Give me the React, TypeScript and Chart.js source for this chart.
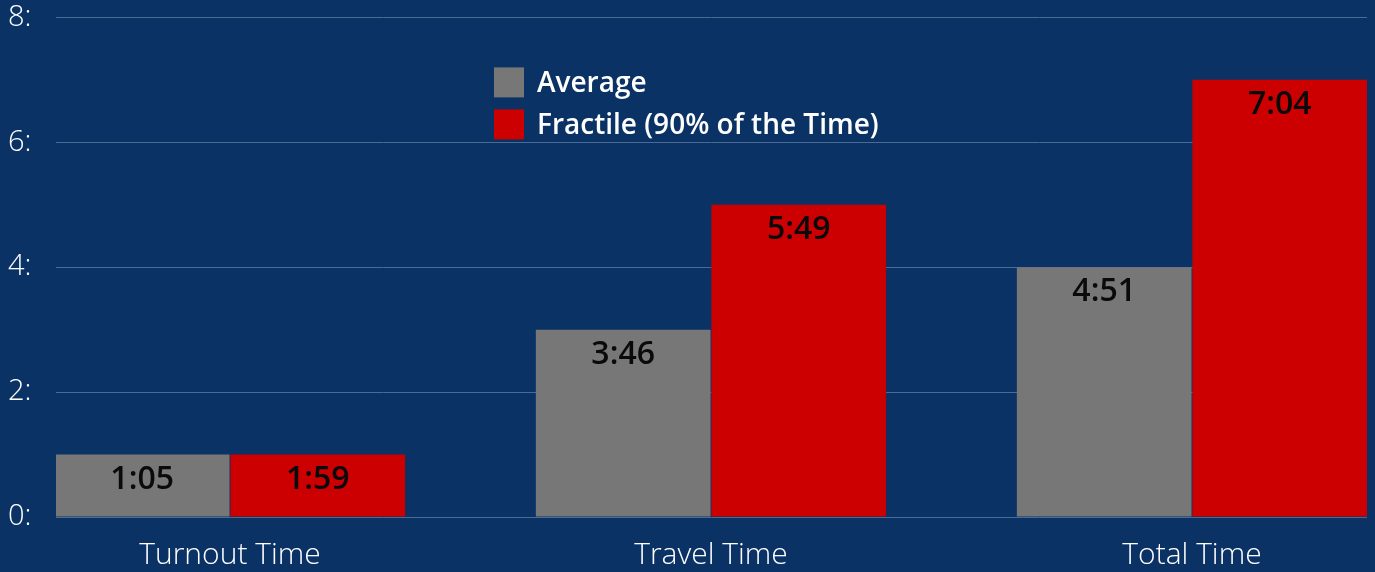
import React, { useEffect, useRef } from "react";
import { Chart, registerables } from "chart.js";

Chart.register(...registerables);

const categories = ["Turnout Time", "Travel Time", "Total Time"];
const averageValues = [1, 3, 4];
const fractileValues = [1, 5, 7];
const averageLabels = ["1:05", "3:46", "4:51"];
const fractileLabels = ["1:59", "5:49", "7:04"];
const seriesNames = ["Average", "Fractile (90% of the Time)"];
const yTicks = [0, 2, 4, 6, 8];

const BG = "#0a3264";
const GRID = "#4a6b93";
const GREY = "#777777";
const RED = "#cc0000";
const FONT = "'Open Sans', 'Noto Sans', sans-serif";

const barLabelPlugin = {
  id: "barLabels",
  afterDatasetsDraw(chart: any) {
    const ctx = chart.ctx;
    const labelSets = [averageLabels, fractileLabels];
    ctx.save();
    ctx.font = `600 32px ${FONT}`;
    ctx.fillStyle = "#0a0a0a";
    ctx.textAlign = "center";
    ctx.textBaseline = "alphabetic";
    chart.data.datasets.forEach((_: any, di: number) => {
      const meta = chart.getDatasetMeta(di);
      meta.data.forEach((bar: any, i: number) => {
        ctx.fillText(labelSets[di][i], bar.x, bar.y + 34);
      });
    });
    ctx.restore();
  },
};

const legendPlugin = {
  id: "customLegend",
  afterDraw(chart: any) {
    const ctx = chart.ctx;
    const { left, top } = chart.chartArea;
    const colors = [GREY, RED];
    ctx.save();
    ctx.font = `600 28px ${FONT}`;
    ctx.textAlign = "left";
    ctx.textBaseline = "alphabetic";
    seriesNames.forEach((name, i) => {
      const bx = left + 438;
      const by = top + 50 + i * 42;
      ctx.fillStyle = colors[i];
      ctx.fillRect(bx, by, 30, 30);
      ctx.fillStyle = "#ffffff";
      ctx.fillText(name, bx + 43, by + 25);
    });
    ctx.restore();
  },
};

export default function App() {
  const canvasRef = useRef<HTMLCanvasElement>(null);

  useEffect(() => {
    document.body.style.margin = "0";
    document.body.style.background = BG;
    const canvas = canvasRef.current;
    if (!canvas) return;
    const chart = new Chart(canvas, {
      type: "bar",
      data: {
        datasets: [
          {
            label: seriesNames[0],
            data: averageValues.map((v, i) => ({ x: i, y: v })),
            backgroundColor: GREY,
            borderWidth: 0,
          },
          {
            label: seriesNames[1],
            data: fractileValues.map((v, i) => ({ x: i, y: v })),
            backgroundColor: RED,
            borderWidth: 0,
          },
        ],
      },
      options: {
        animation: false,
        responsive: false,
        maintainAspectRatio: false,
        datasets: {
          bar: {
            categoryPercentage: 0.73,
            barPercentage: 0.995,
          },
        },
        layout: { padding: { left: 8, right: 8, top: 17, bottom: 0 } },
        plugins: {
          legend: { display: false },
          tooltip: { enabled: false },
        },
        scales: {
          x: {
            type: "linear",
            offset: false,
            min: -0.3617,
            max: 2.3639,
            grid: { display: false, drawTicks: false, offset: false },
            border: { display: false },
            afterBuildTicks: (scale: any) => {
              scale.ticks = categories.map((_, i) => ({ value: i }));
            },
            afterFit: (scale: any) => {
              scale.height = 55;
            },
            ticks: {
              color: "#ffffff",
              font: { family: FONT, size: 30, weight: "300" as any },
              padding: 20,
              maxRotation: 0,
              autoSkip: false,
              callback: (v: any) => categories[Math.round(Number(v))] ?? "",
            },
          },
          y: {
            min: 0,
            max: 8,
            afterBuildTicks: (scale: any) => {
              scale.ticks = yTicks.map((v) => ({ value: v }));
            },
            afterFit: (scale: any) => {
              scale.width = 48;
            },
            grid: { color: GRID, lineWidth: 1, drawTicks: false },
            border: { display: false },
            ticks: {
              color: "#ffffff",
              crossAlign: "far",
              padding: 0,
              font: { family: FONT, size: 29, weight: "300" as any },
              callback: (v: any) => `${v}:`,
            },
          },
        },
      },
      plugins: [barLabelPlugin, legendPlugin],
    });
    return () => chart.destroy();
  }, []);

  return (
    <div style={{ width: 1375, height: 572, background: BG }}>
      <canvas ref={canvasRef} width={1375} height={572} style={{ display: "block" }} />
    </div>
  );
}
